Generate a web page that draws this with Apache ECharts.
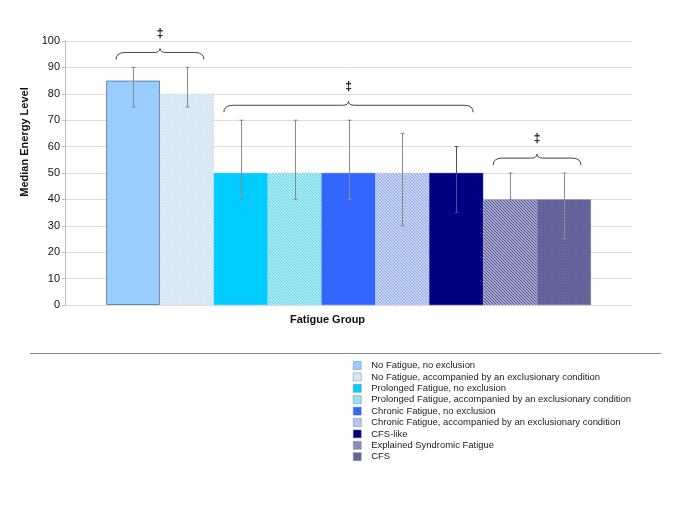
<!DOCTYPE html>
<html><head><meta charset="utf-8">
<script src="https://cdn.jsdelivr.net/npm/echarts@6/dist/echarts.min.js"></script>
<style>html,body{margin:0;padding:0;background:#fff}#c{width:685px;height:513px}</style>
</head><body><div id="c"></div>
<script>
const groupNames = [
  'No Fatigue, no exclusion',
  'No Fatigue, accompanied by an exclusionary condition',
  'Prolonged Fatigue, no exclusion',
  'Prolonged Fatigue, accompanied by an exclusionary condition',
  'Chronic Fatigue, no exclusion',
  'Chronic Fatigue, accompanied by an exclusionary condition',
  'CFS-like',
  'Explained Syndromic Fatigue',
  'CFS'
];
const medianValues = [85, 80, 50, 50, 50, 50, 50, 40, 40];
const lowerValues  = [75, 75, 40, 40, 40, 30, 35, 40, 25];
const upperValues  = [90, 90, 70, 70, 70, 65, 60, 50, 50];
const braceGroups  = [[0, 1], [2, 6], [7, 8]];
const braceMarks   = ['‡', '‡', '‡'];
const yTicks = [0, 100, 10];

const FONT = '"Liberation Sans", Arial, sans-serif';
const GAP = 0.145;

function pattern(bg, fg, cross) {
  const c = document.createElement('canvas');
  c.width = 3; c.height = 3;
  const g = c.getContext('2d');
  g.fillStyle = bg; g.fillRect(0, 0, 3, 3);
  g.fillStyle = fg;
  for (let i = 0; i < 3; i++) {
    g.fillRect(i, i, 1, 1);
    if (cross) g.fillRect(2 - i, i, 1, 1);
  }
  return { image: c, repeat: 'repeat' };
}

const colors = [
  '#99ccff',
  pattern('#e4eff8', '#c6dcef', false),
  '#00ccff',
  pattern('#b2ecf4', '#5cd2e2', false),
  '#3366ff',
  pattern('#c8d5f5', '#8ea4e6', false),
  '#000080',
  pattern('#acacd0', '#4a4a90', false),
  pattern('#6c6ca2', '#5e5e96', true)
];
const borders = ['#6688aa', '#c8dcec', '#00ccff', '#88dde8', '#3366ff', '#a8bbee', '#000080', '#8080aa', '#666699'];

const chart = echarts.init(document.getElementById('c'), null, { renderer: 'canvas' });

function barLayout(api) {
  const c = api.coord([0, 0]);
  const catW = api.size([1, 0])[0];
  const total = catW * (1 - GAP);
  const bw = total / groupNames.length;
  return { start: c[0] - total / 2, bw: bw };
}

const barSeries = groupNames.map((n, i) => ({
  name: n,
  type: 'bar',
  data: [medianValues[i]],
  barGap: '0%',
  barCategoryGap: (GAP * 100) + '%',
  silent: true,
  itemStyle: { color: colors[i], borderColor: borders[i], borderWidth: i === 0 ? 1 : 0.5 },
  z: 2
}));

const errSeries = {
  name: 'err',
  type: 'custom',
  silent: true,
  z: 5,
  encode: { x: 0, y: [2, 3] },
  data: groupNames.map((n, i) => [0, i, lowerValues[i], upperValues[i]]),
  renderItem: function (params, api) {
    const L = barLayout(api);
    const i = api.value(1);
    const x = Math.round(L.start + (i + 0.5) * L.bw) + 0.5;
    const yl = api.coord([0, api.value(2)])[1];
    const yh = api.coord([0, api.value(3)])[1];
    const st = { stroke: i === 6 ? '#4a4a9a' : '#8a8a8a', lineWidth: 1 };
    return { type: 'group', children: [
      { type: 'line', shape: { x1: x, y1: yl, x2: x, y2: yh }, style: st },
      { type: 'line', shape: { x1: x - 2, y1: yh, x2: x + 2, y2: yh }, style: st },
      { type: 'line', shape: { x1: x - 2, y1: yl, x2: x + 2, y2: yl }, style: st }
    ]};
  }
};

const braceSeries = {
  name: 'brace',
  type: 'custom',
  silent: true,
  z: 6,
  encode: { x: 0, y: 3 },
  data: braceGroups.map((g, k) => [0, g[0], g[1], Math.max(...upperValues.slice(g[0], g[1] + 1)) + 3, k]),
  renderItem: function (params, api) {
    const L = barLayout(api);
    const x0 = L.start + api.value(1) * L.bw + 10;
    const x1 = L.start + (api.value(2) + 1) * L.bw - 10;
    const y = api.coord([0, api.value(3)])[1];
    const yL = y - 7, yP = y - 11;
    const xm = (x0 + x1) / 2;
    const d = `M${x0},${y} Q${x0},${yL} ${x0 + 9},${yL} L${xm - 6},${yL} Q${xm},${yL} ${xm},${yP} Q${xm},${yL} ${xm + 6},${yL} L${x1 - 9},${yL} Q${x1},${yL} ${x1},${y}`;
    return { type: 'group', children: [
      { type: 'path', shape: { pathData: d }, style: { stroke: '#444', fill: 'none', lineWidth: 1 } },
      { type: 'text', x: xm, y: yP - 15, style: { text: braceMarks[api.value(4)], font: 'bold 12px ' + FONT, fill: '#111', align: 'center', verticalAlign: 'middle' } }
    ]};
  }
};

chart.setOption({
  animation: false,
  backgroundColor: '#fff',
  grid: { left: 65, right: 53, top: 41, bottom: 208, containLabel: false },
  xAxis: {
    type: 'category',
    data: [''],
    axisLine: { show: false },
    axisTick: { show: false },
    axisLabel: { show: false },
    name: 'Fatigue Group',
    nameLocation: 'middle',
    nameGap: 9,
    nameTextStyle: { fontFamily: FONT, fontSize: 11, fontWeight: 'bold', color: '#111', padding: [0, 42, 0, 0] }
  },
  yAxis: {
    type: 'value',
    min: yTicks[0], max: yTicks[1], interval: yTicks[2],
    axisLine: { show: true, lineStyle: { color: '#bbb' } },
    axisTick: { show: true, length: 3, lineStyle: { color: '#bbb' } },
    axisLabel: { fontFamily: FONT, fontSize: 11, color: '#111', margin: 5 },
    splitLine: { lineStyle: { color: '#dedede' } },
    name: 'Median Energy Level',
    nameLocation: 'middle',
    nameRotate: 90,
    nameGap: 34,
    nameTextStyle: { fontFamily: FONT, fontSize: 11, fontWeight: 'bold', color: '#111', padding: [0, 0, 0, 62] }
  },
  legend: {
    data: groupNames,
    orient: 'vertical',
    left: 353,
    top: 361,
    padding: 0,
    itemWidth: 8,
    itemHeight: 8,
    itemGap: 2.4,
    icon: 'rect',
    selectedMode: false,
    itemStyle: { borderColor: '#778899', borderWidth: 0.5 },
    textStyle: { fontFamily: FONT, fontSize: 9.45, color: '#222', lineHeight: 8, padding: [0, 0, 0, 5] }
  },
  graphic: [
    { type: 'line', shape: { x1: 30, y1: 353.5, x2: 661, y2: 353.5 }, style: { stroke: '#888', lineWidth: 1 } }
  ],
  series: barSeries.concat([errSeries, braceSeries])
});
</script></body></html>
